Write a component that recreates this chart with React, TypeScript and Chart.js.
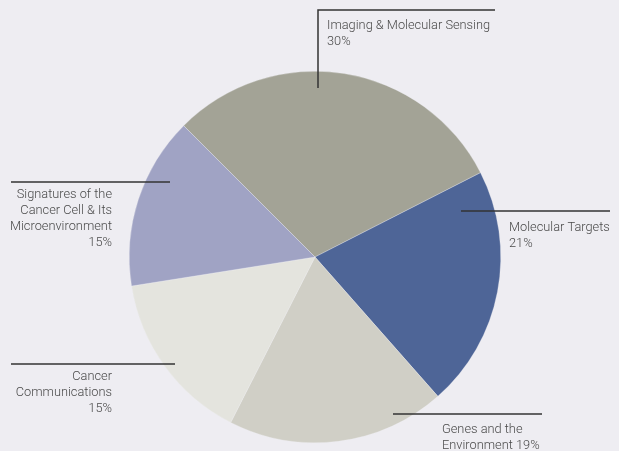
import React, { useEffect, useRef } from "react";
import { Chart, registerables } from "chart.js";

Chart.register(...registerables);

const categories = [
  "Imaging & Molecular Sensing",
  "Molecular Targets",
  "Genes and the Environment",
  "Cancer Communications",
  "Signatures of the Cancer Cell & Its Microenvironment",
];
const shares = [30, 21, 19, 15, 15];
const labelLines = [
  ["Imaging & Molecular Sensing", "30%"],
  ["Molecular Targets", "21%"],
  ["Genes and the", "Environment 19%"],
  ["Cancer", "Communications", "15%"],
  ["Signatures of the", "Cancer Cell & Its", "Microenvironment", "15%"],
];
const colors = ["#a3a396", "#4e6597", "#d0cfc6", "#e4e4de", "#a0a3c4"];
const BG = "#eeedf2";

// leader line layouts (canvas pixels)
const callouts = [
  { pts: [[318, 88], [318, 10], [495, 10]], tx: 327, ty: 26, align: "left" },
  { pts: [[461, 211], [610, 211]], tx: 509, ty: 228, align: "left" },
  { pts: [[393, 414], [542, 414]], tx: 442, ty: 430, align: "left" },
  { pts: [[11, 364], [175, 364]], tx: 112, ty: 377, align: "right" },
  { pts: [[11, 182], [170, 182]], tx: 112, ty: 195, align: "right" },
];

const calloutPlugin = {
  id: "callouts",
  afterDraw(chart: any) {
    const ctx = chart.ctx;
    ctx.save();
    callouts.forEach((c, i) => {
      ctx.strokeStyle = "#333";
      ctx.lineWidth = 1.5;
      ctx.beginPath();
      c.pts.forEach((p, j) => (j === 0 ? ctx.moveTo(p[0], p[1]) : ctx.lineTo(p[0], p[1])));
      ctx.stroke();
      ctx.fillStyle = "#4a4a4a";
      ctx.font = "300 12.8px Roboto, 'Liberation Sans', sans-serif";
      ctx.textAlign = c.align;
      ctx.textBaseline = "middle";
      labelLines[i].forEach((t, k) => ctx.fillText(t, c.tx, c.ty + k * 16));
    });
    ctx.restore();
  },
};

export default function App() {
  const ref = useRef<HTMLCanvasElement>(null);
  useEffect(() => {
    document.body.style.margin = "0";
    const chart = new Chart(ref.current!, {
      type: "pie",
      data: {
        labels: categories,
        datasets: [
          {
            data: shares,
            backgroundColor: colors,
            borderColor: "rgba(238,237,242,0.6)",
            borderWidth: 0.5,
          },
        ],
      },
      options: {
        animation: false,
        responsive: false,
        rotation: -45,
        layout: { padding: { left: 129, right: 118, top: 71, bottom: 8 } },
        plugins: { legend: { display: false }, tooltip: { enabled: false } },
      },
      plugins: [calloutPlugin],
    });
    return () => chart.destroy();
  }, []);
  return (
    <div style={{ width: 619, height: 451, background: BG }}>
      <canvas ref={ref} width={619} height={451} />
    </div>
  );
}
